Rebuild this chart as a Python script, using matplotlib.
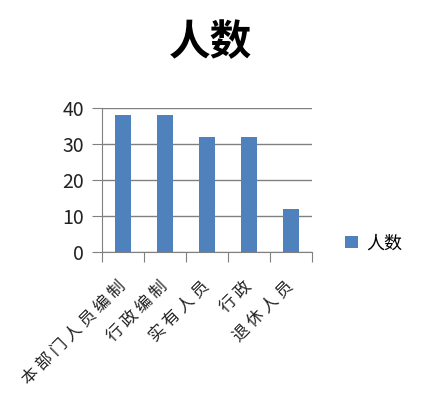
import matplotlib
matplotlib.use("Agg")
import matplotlib.pyplot as plt
import numpy as np

plt.rcParams['font.family'] = ['Noto Sans CJK SC', 'DejaVu Sans']

# chart data
categories = ["本部门人员编制", "行政编制", "实有人员", "行政", "退休人员"]
counts = [38, 38, 32, 32, 12]
y_ticks = [0, 10, 20, 30, 40]
series_name = "人数"

bar_color = "#4F81BD"
grid_color = "#808080"

fig = plt.figure(figsize=(4.28, 4.01), dpi=100)
ax = fig.add_axes([102 / 428, 1 - 252 / 401, 210 / 428, 144 / 401])

x = np.arange(len(categories))
ax.bar(x, counts, width=0.4, color=bar_color, label=series_name, zorder=3)

ax.set_xlim(-0.5, len(categories) - 0.5)
ax.set_ylim(0, 40)
ax.set_yticks(y_ticks)
ax.yaxis.grid(True, color=grid_color, linewidth=1, zorder=0)
ax.tick_params(axis="y", labelsize=14, length=7, color=grid_color, pad=6,
               labelcolor="#222222")

# Excel-style category ticks between categories
ax.set_xticks(np.arange(-0.5, len(categories), 1.0))
ax.set_xticklabels([])
ax.tick_params(axis="x", length=7, color=grid_color, direction="out")
for i, name in enumerate(categories):
    # spaced-out characters like the original rendering
    ax.annotate(" ".join(name), xy=(i, 0), xycoords=("data", "axes fraction"),
                xytext=(0, -23), textcoords="offset points",
                rotation=45, ha="right", va="center", fontsize=12,
                rotation_mode="anchor", color="#222222")

for side in ["top", "right"]:
    ax.spines[side].set_visible(False)
ax.spines["left"].set_color(grid_color)
ax.spines["bottom"].set_color(grid_color)

fig.text(210 / 428, 1 - 43 / 401, "人数", ha="center", va="center",
         fontsize=30, fontweight="bold")

ax.legend(loc="center left", bbox_to_anchor=(1.08, 0.06), frameon=False,
          fontsize=13, handlelength=0.7, handleheight=0.7, handletextpad=0.5)

fig.savefig("out.png", dpi=100)
